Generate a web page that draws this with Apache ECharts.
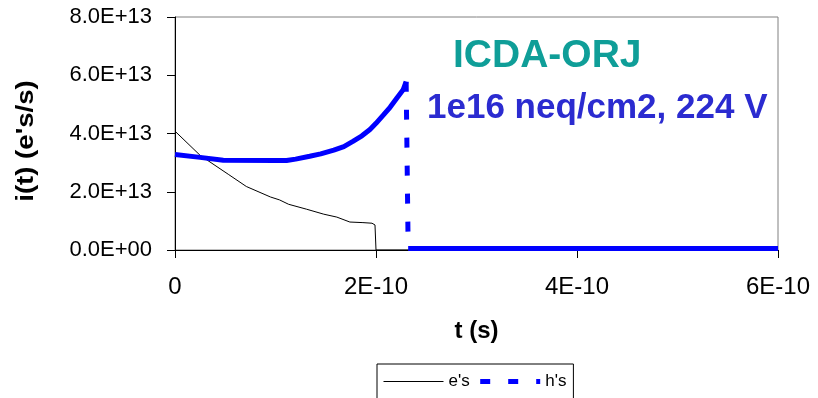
<!DOCTYPE html>
<html>
<head>
<meta charset="utf-8">
<script src="https://cdn.jsdelivr.net/npm/echarts@6/dist/echarts.min.js"></script>
<style>html,body{margin:0;padding:0;background:#fff}#c{width:818px;height:398px}</style>
</head>
<body>
<div id="c"></div>
<script>
// time in units of 1E-10 s, current in units of 1E+13 e's/s
const xTicks = [0, 2, 4, 6];
const yTicks = [0, 2, 4, 6, 8];

const tE = [0, 0.25, 0.53, 0.71, 0.95, 1.04, 1.13, 1.31, 1.48, 1.61, 1.74, 1.87, 1.96, 1.99, 2.0, 6.0];
const iE = [4.08, 3.25, 2.6, 2.18, 1.82, 1.72, 1.57, 1.40, 1.23, 1.13, 0.96, 0.94, 0.92, 0.86, 0, 0];

const tHcurve = [0, 0.25, 0.48, 1.0, 1.11, 1.2, 1.34, 1.45, 1.58, 1.68, 1.77, 1.86, 1.94, 2.0, 2.07, 2.14, 2.21, 2.27, 2.30];
const iHcurve = [3.28, 3.18, 3.08, 3.07, 3.07, 3.12, 3.22, 3.30, 3.43, 3.55, 3.73, 3.92, 4.14, 4.35, 4.62, 4.9, 5.23, 5.5, 5.78];

const tHdrop = [2.30, 2.32];
const iHdrop = [5.78, 0.05];

const tHtail = [2.32, 6.0];
const iHtail = [0.05, 0.05];

const zip = (a, b) => a.map((v, i) => [v, b[i]]);
const FONT = 'Liberation Sans, Arial, sans-serif';

const chart = echarts.init(document.getElementById('c'), null, {renderer: 'canvas'});
chart.setOption({
  animation: false,
  backgroundColor: '#fff',
  grid: {left: 175, right: 40, top: 17, bottom: 148, show: true, borderColor: '#808080', borderWidth: 1, backgroundColor: 'transparent'},
  xAxis: {
    type: 'value', min: xTicks[0], max: xTicks[xTicks.length - 1], interval: 2,
    axisLine: {onZero: false, lineStyle: {color: '#000', width: 1}},
    axisTick: {show: true, length: 8, lineStyle: {color: '#000'}},
    splitLine: {show: false},
    axisLabel: {fontFamily: FONT, fontSize: 24, color: '#000', margin: 25,
      formatter: v => v === 0 ? '0' : v + 'E-10'},
    name: 't (s)', nameLocation: 'middle', nameGap: 69,
    nameTextStyle: {fontFamily: FONT, fontSize: 24, fontWeight: 'bold', color: '#000'}
  },
  yAxis: {
    type: 'value', min: yTicks[0], max: yTicks[yTicks.length - 1], interval: 2,
    axisLine: {show: true, lineStyle: {color: '#000', width: 1}},
    axisTick: {show: true, length: 8, lineStyle: {color: '#000'}},
    splitLine: {show: false},
    axisLabel: {fontFamily: FONT, fontSize: 22, color: '#000', margin: 23,
      formatter: v => v === 0 ? '0.0E+00' : v.toFixed(1) + 'E+13'}
  },
  legend: {
    data: [
      {name: "e's", itemStyle: {opacity: 0}, lineStyle: {width: 1, color: '#000'}},
      {name: "h's", itemStyle: {opacity: 0}, lineStyle: {width: 5, color: '#0000ff', type: [10, 18]}}
    ],
    itemStyle: {opacity: 0},
    left: 377, top: 364, orient: 'horizontal',
    padding: [9, 7, 9, 6], itemGap: 8, itemWidth: 60, itemHeight: 14,
    borderColor: '#000', borderWidth: 1,
    textStyle: {fontFamily: FONT, fontSize: 17, color: '#000'}
  },
  graphic: [
    {type: 'text', x: 27, y: 141, rotation: Math.PI / 2, scaleX: 1.2,
      style: {text: "i(t) (e's/s)", font: 'bold 23px ' + FONT, fill: '#000', align: 'center', verticalAlign: 'middle'}},
    {type: 'text', x: 453, y: 56,
      style: {text: 'ICDA-ORJ', font: 'bold 39px ' + FONT, fill: '#0f9e98', align: 'left', verticalAlign: 'middle'}},
    {type: 'text', x: 427, y: 108,
      style: {text: '1e16 neq/cm2, 224 V', font: 'bold 35px ' + FONT, fill: '#2b2bd0', align: 'left', verticalAlign: 'middle'}}
  ],
  series: [
    {name: "e's", type: 'line', data: zip(tE, iE), symbol: 'none', z: 2,
      lineStyle: {color: '#000', width: 1}, itemStyle: {color: '#000'}},
    {name: "h's", type: 'line', data: zip(tHdrop, iHdrop), symbol: 'none', z: 3,
      lineStyle: {color: '#0000ff', width: 5, type: [10, 18], cap: 'butt'}, itemStyle: {color: '#0000ff'}},
    {name: "h's curve", type: 'line', data: zip(tHcurve, iHcurve), symbol: 'none', z: 3,
      lineStyle: {color: '#0000ff', width: 5}, itemStyle: {color: '#0000ff'}},
    {name: "h's tail", type: 'line', data: zip(tHtail, iHtail), symbol: 'none', z: 3,
      lineStyle: {color: '#0000ff', width: 5}, itemStyle: {color: '#0000ff'}}
  ]
});
</script>
</body>
</html>
